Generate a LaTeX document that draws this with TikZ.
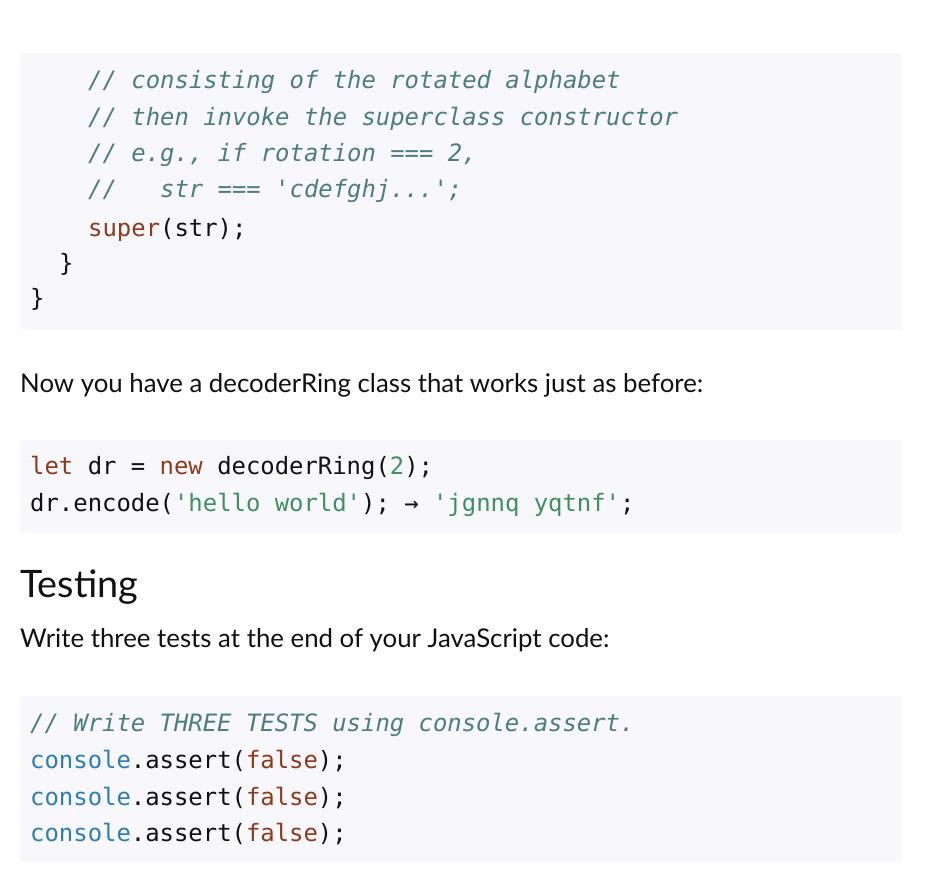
\documentclass[tikz,border=0pt]{standalone}
\usepackage{fontspec}
\setmainfont{Lato}
\newfontfamily\cmono[Ligatures=NoCommon]{DejaVu Sans Mono}
\definecolor{bgc}{HTML}{F7F7FC}
\definecolor{cmt}{HTML}{4E7E7C}
\definecolor{kw}{HTML}{8E3A1C}
\definecolor{st}{HTML}{3F8F5F}
\definecolor{bl}{HTML}{2F7DB3}
\definecolor{tx}{HTML}{111111}
\newcommand{\q}{\char39}
\begin{document}
\begin{tikzpicture}[x=1pt,y=-1pt,
  code/.style={anchor=base west,inner sep=0pt,font=\cmono\fontsize{23.9}{28}\selectfont,text=tx},
  body/.style={anchor=base west,inner sep=0pt,font=\fontsize{25.8}{30}\selectfont,text=tx},
  blk/.style={fill=bgc,draw=none}]
\useasboundingbox (0,0) rectangle (928,886);
\fill[blk] (20,53) rectangle (902,330);
\fill[blk] (20,440) rectangle (902,533);
\fill[blk] (20,696) rectangle (902,862);
\node[code,text=cmt] (c1) at (88,88) {\itshape // consisting of the rotated alphabet};
\node[code,text=cmt] (c2) at (88,125) {\itshape // then invoke the superclass constructor};
\node[code,text=cmt] (c3) at (88,161) {\itshape // e.g., if rotation === 2,};
\node[code,text=cmt] (c4) at (88,197) {\itshape //~~~str === \q cdefghj...\q;};
\node[code] (c5) at (88,236) {\textcolor{kw}{super}(str);};
\node[code] (c6) at (59,271) {\}};
\node[code] (c7) at (30,306) {\}};
\node[body] (p1) at (20,392) {Now you have a decoderRing class that works just as before:};
\node[code] (d1) at (30,474) {\textcolor{kw}{let} dr = \textcolor{kw}{new} decoderRing(\textcolor{st}{2});};
\node[code] (d2) at (30,511) {dr.encode(\textcolor{st}{\q hello world\q}); → \textcolor{st}{\q jgnnq yqtnf\q};};
\node[body,font=\fontsize{37.8}{44}\selectfont] (h1) at (20,597) {Testing};
\node[body] (p2) at (20,647) {Write three tests at the end of your JavaScript code:};
\node[code,text=cmt] (e1) at (30,731) {\itshape // Write THREE TESTS using console.assert.};
\node[code] (e2) at (30,768) {\textcolor{bl}{console}.assert(\textcolor{kw}{false});};
\node[code] (e3) at (30,805) {\textcolor{bl}{console}.assert(\textcolor{kw}{false});};
\node[code] (e4) at (30,841) {\textcolor{bl}{console}.assert(\textcolor{kw}{false});};
\end{tikzpicture}
\end{document}
